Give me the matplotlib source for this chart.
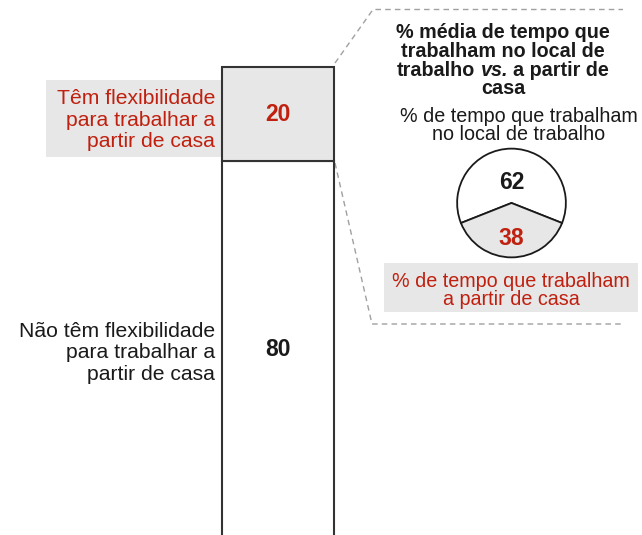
import matplotlib
matplotlib.use('Agg')
import matplotlib.pyplot as plt
import numpy as np

plt.rcParams['font.family'] = ['Liberation Sans', 'DejaVu Sans']

# data
bar_labels = ['Não têm flexibilidade\npara trabalhar a\npartir de casa',
              'Têm flexibilidade\npara trabalhar a\npartir de casa']
bar_values = [80, 20]
pie_values = [62, 38]
pie_title = ['% média de tempo que', 'trabalham no local de',
             ['trabalho', 'vs.', 'a partir de'], 'casa']
pie_top_label = ['% de tempo que trabalham', 'no local de trabalho']
pie_bot_label = ['% de tempo que trabalham', 'a partir de casa']

red = '#c0200f'
grey = '#e6e7e6'
dark = '#1a1a1a'
edge = '#333333'

W, H = 642, 535
fig = plt.figure(figsize=(W / 100, H / 100), dpi=100)
renderer = fig.canvas.get_renderer()

# background axes in pixel units for annotations
ax = fig.add_axes([0, 0, 1, 1])
ax.set_xlim(0, W)
ax.set_ylim(H, 0)
ax.axis('off')

# stacked bar
axb = fig.add_axes([222 / W, -2 / H, 112 / W, 470 / H])
axb.set_xlim(-0.5, 0.5)
axb.set_ylim(0, sum(bar_values))
axb.axis('off')
bottom = 0
fills = ['white', grey]
colors = [dark, red]
for v, fc, c in zip(bar_values, fills, colors):
    axb.bar(0, v, width=1, bottom=bottom, color=fc, edgecolor=edge,
            linewidth=1.5, clip_on=False)
    axb.text(0, bottom + v / 2, str(v), ha='center', va='center',
             fontsize=16.5, fontweight='bold', color=c)
    bottom += v

# left labels
ax.add_patch(plt.Rectangle((46, 80), 222 - 46, 77, color=grey, lw=0, zorder=0))
for i, line in enumerate(bar_labels[1].split('\n')):
    ax.text(215, 104 + i * 21.5, line, ha='right', va='baseline',
            fontsize=15.2, color=red)
for i, line in enumerate(bar_labels[0].split('\n')):
    ax.text(215, 337 + i * 21.5, line, ha='right', va='baseline',
            fontsize=15.2, color=dark)

# dashed connector lines
dash = dict(color='#a0a0a0', lw=1, ls=(0, (4, 3)))
ax.plot([335, 373, 623], [63, 9.5, 9.5], **dash)
ax.plot([335, 372, 623], [163, 324, 324], **dash)

# title, one text per line; the mixed line is built from pieces
fs = 14.2
space = 0.278 * fs * 100 / 72
for i, line in enumerate(pie_title):
    y = 38 + i * 18.8
    if isinstance(line, str):
        ax.text(503, y, line, ha='center', va='baseline', fontsize=fs,
                fontweight='bold', color=dark)
        continue
    styles = ['normal', 'italic', 'normal']
    txts = [ax.text(0, y, s, ha='left', va='baseline', fontsize=fs,
                    fontweight='bold', fontstyle=st, color=dark)
            for s, st in zip(line, styles)]
    widths = [t.get_window_extent(renderer).width for t in txts]
    x = 503 - (sum(widths) + space * (len(widths) - 1)) / 2
    for t, w in zip(txts, widths):
        t.set_x(x)
        x += w + space

for i, line in enumerate(pie_top_label):
    ax.text(519, 122 + i * 17.5, line, ha='center', va='baseline',
            fontsize=fs, color=dark)

# pie
cx, cy, r = 511.5, 203, 56
axp = fig.add_axes([(cx - r) / W, (H - cy - r) / H, 2 * r / W, 2 * r / H])
start = 90 - pie_values[0] / sum(pie_values) * 180
wedges, _ = axp.pie(pie_values, startangle=start, colors=['white', grey],
                    wedgeprops=dict(edgecolor=dark, linewidth=1.3),
                    radius=1)
axp.set_xlim(-1.03, 1.03)
axp.set_ylim(-1.03, 1.03)
for w, v, c, rr in zip(wedges, pie_values, [dark, red], [0.38, 0.65]):
    th = np.deg2rad((w.theta1 + w.theta2) / 2)
    axp.text(rr * np.cos(th), rr * np.sin(th), str(v), ha='center',
             va='center', fontsize=16.5, fontweight='bold', color=c)

# bottom pie label
ax.add_patch(plt.Rectangle((384, 263), 638 - 384, 49, color=grey, lw=0, zorder=0))
for i, line in enumerate(pie_bot_label):
    ax.text(511, 287 + i * 18, line, ha='center', va='baseline',
            fontsize=fs, color=red)

plt.savefig('out.png', dpi=100)
